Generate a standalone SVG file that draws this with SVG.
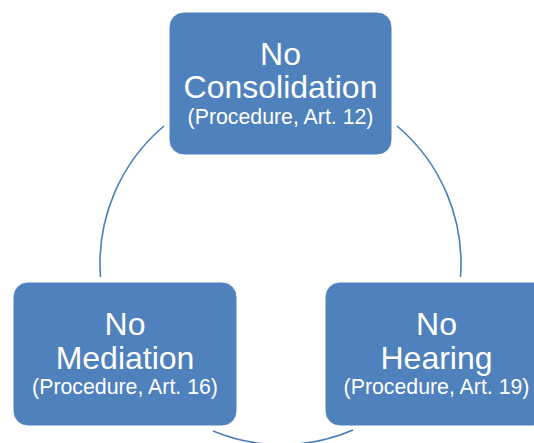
<svg xmlns="http://www.w3.org/2000/svg" width="534" height="443" viewBox="0 0 534 443">
<style>
.box{fill:#4F81BD;stroke:#ffffff;stroke-width:1}
.arc{fill:none;stroke:#4A7EBB;stroke-width:1.6}
.t1{font-family:"Liberation Sans",Arial,sans-serif;font-size:32px;fill:#ffffff;text-anchor:middle}
.t2{font-family:"Liberation Sans",Arial,sans-serif;font-size:21.3px;fill:#ffffff;text-anchor:middle}
</style>
<rect width="534" height="443" fill="#ffffff"/>
<g id="connectors">
<path class="arc" d="M164,126 A180,180 0 0 0 100.5,277"/>
<path class="arc" d="M397,126 A180,180 0 0 1 460.5,277"/>
<path class="arc" d="M353,430 A180,180 0 0 1 213,431"/>
</g>
<g id="node-consolidation">
<rect class="box" x="169" y="12" width="223" height="143" rx="15"/>
<text class="t1" x="280.5" y="65">No</text>
<text class="t1" x="280.5" y="98">Consolidation</text>
<text class="t2" x="280.5" y="124">(Procedure, Art. 12)</text>
</g>
<g id="node-mediation">
<rect class="box" x="13" y="282" width="224" height="144" rx="15"/>
<text class="t1" x="125" y="335">No</text>
<text class="t1" x="125" y="369">Mediation</text>
<text class="t2" x="125" y="394">(Procedure, Art. 16)</text>
</g>
<g id="node-hearing">
<rect class="box" x="325" y="282" width="223" height="144" rx="15"/>
<text class="t1" x="436.5" y="335">No</text>
<text class="t1" x="436.5" y="369">Hearing</text>
<text class="t2" x="436.5" y="394">(Procedure, Art. 19)</text>
</g>
</svg>
